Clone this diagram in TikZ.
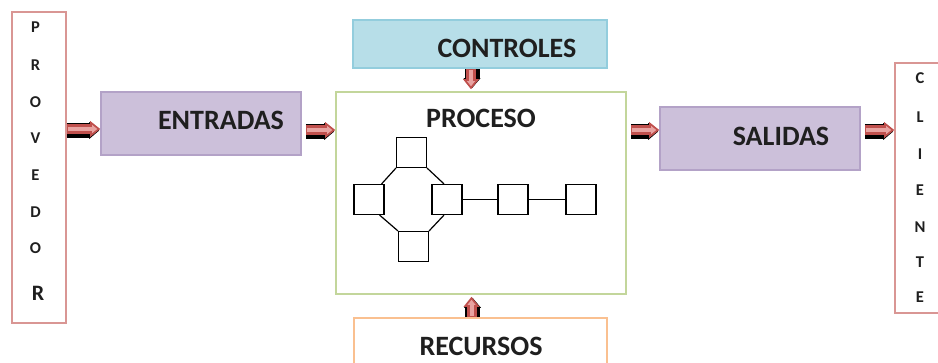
\documentclass[tikz,border=0pt]{standalone}
\usepackage{fontspec}
\setmainfont{Carlito}
\usetikzlibrary{arrows.meta}
\definecolor{pinkb}{HTML}{D99694}
\definecolor{lavf}{HTML}{CCC0DA}
\definecolor{lavb}{HTML}{B3A2C7}
\definecolor{bluef}{HTML}{B7DEE8}
\definecolor{blueb}{HTML}{93CDDD}
\definecolor{greenb}{HTML}{C3D69B}
\definecolor{orangeb}{HTML}{FAC090}
\definecolor{arrred}{HTML}{C0504D}
\definecolor{arrlight}{HTML}{E8A3A1}
\definecolor{txt}{HTML}{1F1F1F}
\begin{document}
\begin{tikzpicture}[x=1pt,y=-1pt,
  bx/.style={draw, line width=1.6pt, inner sep=0pt},
  lbl/.style={text=txt, font=\fontsize{28}{30}\selectfont\bfseries, inner sep=0pt},
  vlet/.style={text=txt, font=\fontsize{16.5}{18}\selectfont\bfseries, inner sep=0pt},
  sq/.style={draw=black, line width=1.2pt, minimum size=30pt, inner sep=0pt},
  net/.style={draw=black, line width=1.2pt},
  shadowarrow/.style={line width=15pt, black, -{Triangle[length=10pt,width=17pt,line width=0pt]}},
  redarrow/.style={line width=10pt, arrred, -{Triangle[length=10pt,width=16pt,line width=0pt]}},
  innerarrow/.style={line width=4pt, arrlight, -{Triangle[length=5pt,width=8pt,line width=0pt]}, shorten >=3pt}
]
\clip (0,0) rectangle (938,363);
\fill[white] (0,0) rectangle (938,363);

% boxes
\node[bx, draw=pinkb, minimum width=54pt, minimum height=311pt] (prov) at (39,167.5) {};
\node[bx, draw=lavb, fill=lavf, minimum width=200pt, minimum height=63pt] (ent) at (201,123.5) {};
\node[bx, draw=greenb, minimum width=290pt, minimum height=202pt] (proc) at (481,193) {};
\node[bx, draw=blueb, fill=bluef, minimum width=254pt, minimum height=48pt] (ctrl) at (480,44) {};
\node[bx, draw=orangeb, minimum width=253pt, minimum height=62pt] (rec) at (480.5,349) {};
\node[bx, draw=lavb, fill=lavf, minimum width=200pt, minimum height=63pt] (sal) at (760,138.5) {};
\node[bx, draw=pinkb, minimum width=60pt, minimum height=250pt] (cli) at (925,188) {};

% labels
\node[lbl] (entT) at (221,120) {ENTRADAS};
\node[lbl] (ctrlT) at (507,48) {CONTROLES};
\node[lbl] (procT) at (481,118) {PROCESO};
\node[lbl] (recT) at (481,346) {RECURSOS};
\node[lbl] (salT) at (781,136) {SALIDAS};

% vertical words
\foreach \l/\yy [count=\i] in {P/27,R/65,O/102,V/138,E/175,D/212,O/248}
  \node[vlet] (pv\i) at (35.5,\yy) {\l};
\node[text=txt, font=\fontsize{22}{24}\selectfont\bfseries, inner sep=0pt] (pv8) at (38,293) {R};
\foreach \l/\yy [count=\i] in {C/78,L/117,I/154,E/190,N/227,T/262,E/297}
  \node[vlet] (cl\i) at (920,\yy) {\l};

% network
\node[sq] (nt) at (411.5,152.5) {};
\node[sq] (nl) at (369,199.5) {};
\node[sq] (nr) at (447,199.5) {};
\node[sq] (nb) at (413.5,246.5) {};
\node[sq] (n5) at (513,199.5) {};
\node[sq] (n6) at (581,199.5) {};
\draw[net] (nt.south west) -- ([xshift=-3pt]nl.north east);
\draw[net] (nt.south east) -- ([xshift=-3pt]nr.north);
\draw[net] ([xshift=-5pt]nl.south east) -- (nb.north west);
\draw[net] ([xshift=-3pt]nr.south) -- (nb.north east);
\draw[net] (nr) -- (n5);
\draw[net] (n5) -- (n6);

% connector coordinates
\coordinate (e1) at ([yshift=-5.5pt]ent.west);
\coordinate (s1) at ([yshift=-6.5pt,xshift=4pt]ent.east);
\coordinate (t2) at ([yshift=8.5pt]sal.west);
\coordinate (s2) at ([xshift=4pt]proc.east |- t2);
\coordinate (s3) at ([yshift=8.5pt,xshift=4pt]sal.east);
\coordinate (d1) at ([xshift=-9pt]ctrl.south);
\coordinate (u1) at ([xshift=-9pt]rec.north);

% arrows: shadow
\draw[shadowarrow] ([yshift=-1.5pt]prov.east |- e1) -- ([yshift=-1.5pt,xshift=-1pt]e1);
\draw[shadowarrow] ([yshift=-1.5pt]s1) -- ([yshift=-1.5pt,xshift=-1pt]proc.west |- s1);
\draw[shadowarrow] ([yshift=-1.5pt]s2) -- ([yshift=-1.5pt,xshift=-1pt]t2);
\draw[shadowarrow] ([yshift=-1.5pt]s3) -- ([yshift=-1.5pt,xshift=-1pt]cli.west |- s3);
\draw[shadowarrow] ([xshift=1pt]d1) -- ([xshift=1pt,yshift=3pt]proc.north -| d1);
\draw[shadowarrow] ([xshift=1pt]u1) -- ([xshift=1pt,yshift=-3pt]proc.south -| u1);
% arrows: red
\draw[redarrow] (prov.east |- e1) -- (e1);
\draw[redarrow] (s1) -- (proc.west |- s1);
\draw[redarrow] (s2) -- (t2);
\draw[redarrow] (s3) -- (cli.west |- s3);
\draw[redarrow] (d1) -- ([yshift=2pt]proc.north -| d1);
\draw[redarrow] (u1) -- ([yshift=-2pt]proc.south -| u1);
% arrows: light centre
\draw[innerarrow] ([xshift=1pt]prov.east |- e1) -- (e1);
\draw[innerarrow] ([xshift=1pt]s1) -- (proc.west |- s1);
\draw[innerarrow] ([xshift=1pt]s2) -- (t2);
\draw[innerarrow] ([xshift=1pt]s3) -- (cli.west |- s3);
\draw[innerarrow] ([yshift=-1pt]d1) -- ([yshift=2pt]proc.north -| d1);
\draw[innerarrow] ([yshift=1pt]u1) -- ([yshift=-2pt]proc.south -| u1);
\end{tikzpicture}
\end{document}
